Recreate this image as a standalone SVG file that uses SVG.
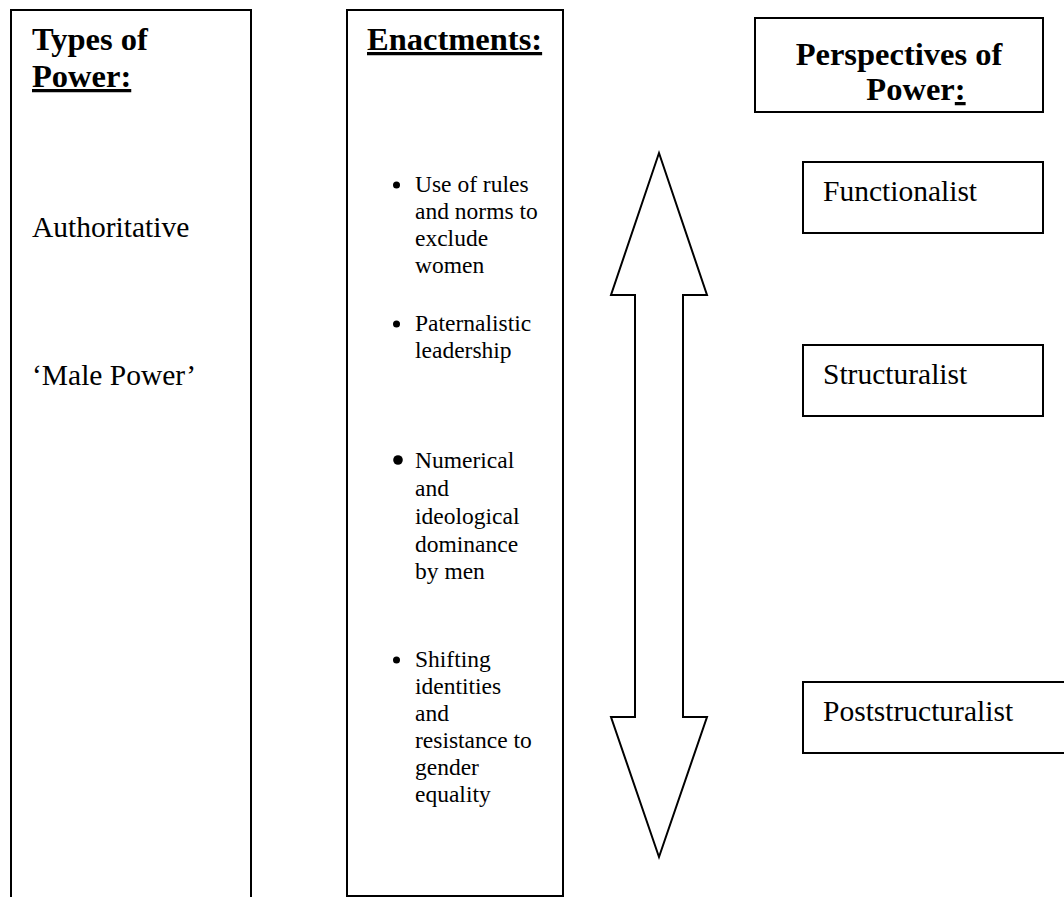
<svg xmlns="http://www.w3.org/2000/svg" width="1064" height="897" viewBox="0 0 1064 897">
<style>
.box{fill:#fff;stroke:#000;stroke-width:2}
.h{font-family:"Liberation Serif","Times New Roman",serif;font-weight:bold;font-size:32.5px;fill:#000}
.t{font-family:"Liberation Serif","Times New Roman",serif;font-size:29.5px;fill:#000}
.b{font-family:"Liberation Serif","Times New Roman",serif;font-size:23.5px;fill:#000}
.u{text-decoration:underline}
.dot{fill:#000}
</style>
<rect width="1064" height="897" fill="#fff"/>
<g id="types">
<path class="box" d="M11,897 V10 H251 V897"/>
<text class="h" x="32" y="50">Types of</text>
<text class="h u" x="32" y="87">Power:</text>
<text class="t" x="32" y="237">Authoritative</text>
<text class="t" x="32" y="385">‘Male Power’</text>
</g>
<g id="enactments">
<rect class="box" x="347" y="10" width="216" height="886"/>
<text class="h u" x="367" y="50">Enactments:</text>
<circle class="dot" cx="396.5" cy="185" r="3.5"/>
<circle class="dot" cx="396.5" cy="324" r="3.5"/>
<circle class="dot" cx="398" cy="460" r="4.8"/>
<circle class="dot" cx="396.5" cy="660" r="3.5"/>
<g class="b">
<text x="415" y="192">Use of rules</text>
<text x="415" y="219">and norms to</text>
<text x="415" y="246">exclude</text>
<text x="415" y="273">women</text>
<text x="415" y="331">Paternalistic</text>
<text x="415" y="358">leadership</text>
<text x="415" y="468">Numerical</text>
<text x="415" y="496">and</text>
<text x="415" y="524">ideological</text>
<text x="415" y="552">dominance</text>
<text x="415" y="579">by men</text>
<text x="415" y="667">Shifting</text>
<text x="415" y="694">identities</text>
<text x="415" y="721">and</text>
<text x="415" y="748">resistance to</text>
<text x="415" y="775">gender</text>
<text x="415" y="802">equality</text>
</g>
</g>
<g id="connectors">
<path d="M659,153 L707,295 H683 V717 H707 L659,857 L611,717 H635 V295 H611 Z" fill="#fff" stroke="#000" stroke-width="2" stroke-linejoin="miter"/>
</g>
<g id="perspectives">
<rect class="box" x="755" y="18" width="288" height="94"/>
<text class="h" x="899" y="65" text-anchor="middle">Perspectives of</text>
<text class="h" x="916" y="100" text-anchor="middle">Power<tspan class="u">:</tspan></text>
</g>
<g id="functionalist">
<rect class="box" x="803" y="162" width="240" height="71"/>
<text class="t" x="823" y="201">Functionalist</text>
</g>
<g id="structuralist">
<rect class="box" x="803" y="345" width="240" height="71"/>
<text class="t" x="823" y="384">Structuralist</text>
</g>
<g id="poststructuralist">
<path class="box" d="M1066,682 H803 V753 H1066"/>
<text class="t" x="823" y="721">Poststructuralist</text>
</g>
</svg>
